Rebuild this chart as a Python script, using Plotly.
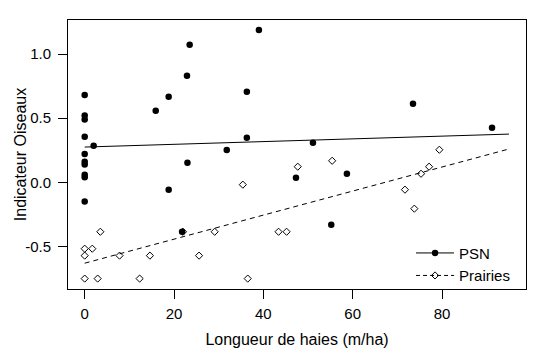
import plotly.graph_objects as go

# PSN data (Longueur de haies, Indicateur Oiseaux)
psn_x = [0, 0, 0, 0, 0, 0, 0, 0, 0, 0,
         2.0, 15.9, 18.8, 22.9, 23.5, 39.0, 36.3, 36.3, 31.8, 18.8,
         23.0, 21.8, 47.3, 73.5, 91.2, 51.1, 58.7, 55.2]
psn_y = [0.68, 0.52, 0.49, 0.355, 0.22, 0.16, 0.14, 0.06, 0.04, -0.15,
         0.285, 0.558, 0.667, 0.83, 1.072, 1.188, 0.706, 0.347, 0.252, -0.057,
         0.153, -0.385, 0.036, 0.612, 0.425, 0.309, 0.067, -0.33]

# Prairies data
pr_x = [3.5, 0, 1.7, 0, 7.8, 14.6, 25.6, 22.0, 29.1, 43.4, 45.2,
        0, 2.9, 12.3, 36.5, 35.4, 47.7, 55.4, 71.7, 73.8, 75.3, 77.1, 79.4]
pr_y = [-0.385, -0.517, -0.517, -0.571, -0.571, -0.571, -0.571, -0.385, -0.385, -0.385, -0.385,
        -0.75, -0.75, -0.75, -0.75, -0.018, 0.122, 0.168, -0.057, -0.205, 0.067, 0.122, 0.254]

# Regression lines (endpoints)
fit_x = [0, 95]
psn_fit = [0.275, 0.376]
pr_fit = [-0.63, 0.26]

x_ticks = [0, 20, 40, 60, 80]
y_ticks = [-0.5, 0.0, 0.5, 1.0]
y_tick_labels = ["-0.5", "0.0", "0.5", "1.0"]

FONT = "Liberation Sans, Arial, sans-serif"

fig = go.Figure()
fig.add_trace(go.Scatter(x=fit_x, y=psn_fit, mode="lines",
                         line=dict(color="black", width=1), showlegend=False, hoverinfo="skip"))
fig.add_trace(go.Scatter(x=fit_x, y=pr_fit, mode="lines",
                         line=dict(color="black", width=1, dash="5px,4px"), showlegend=False, hoverinfo="skip"))
fig.add_trace(go.Scatter(x=psn_x, y=psn_y, mode="markers",
                         marker=dict(symbol="circle", size=6.5, color="black"), showlegend=False))
fig.add_trace(go.Scatter(x=pr_x, y=pr_y, mode="markers",
                         marker=dict(symbol="diamond-open", size=5.5, color="black", line=dict(width=1)),
                         showlegend=False))
# legend entries
fig.add_trace(go.Scatter(x=[None], y=[None], mode="lines+markers", name="PSN",
                         line=dict(color="black", width=1),
                         marker=dict(symbol="circle", size=6.5, color="black")))
fig.add_trace(go.Scatter(x=[None], y=[None], mode="lines+markers", name="Prairies",
                         line=dict(color="black", width=1, dash="4px,3px"),
                         marker=dict(symbol="diamond-open", size=5.5, color="black", line=dict(width=1))))

fig.update_layout(
    width=538, height=350,
    margin=dict(l=60, r=20, t=12, b=69),
    plot_bgcolor="white", paper_bgcolor="white",
    font=dict(family=FONT, size=15, color="black"),
    showlegend=True,
    legend=dict(x=0.749, y=-0.01, xanchor="left", yanchor="bottom", itemwidth=38,
                bgcolor="rgba(0,0,0,0)", font=dict(size=15), tracegroupgap=0),
    xaxis=dict(range=[-3.74, 98.8], tickvals=x_ticks, ticks="outside", ticklen=9,
               tickcolor="black", showline=True, linecolor="black", linewidth=1, mirror=True,
               showgrid=False, zeroline=False, automargin=False, ticklabelstandoff=2,
               title=dict(text="Longueur de haies (m/ha)", font=dict(size=16), standoff=12)),
    yaxis=dict(range=[-0.831, 1.265], tickvals=y_ticks, ticktext=y_tick_labels, ticks="outside", ticklen=9,
               tickcolor="black", showline=True, linecolor="black", linewidth=1, mirror=True,
               showgrid=False, zeroline=False, automargin=False, ticklabelstandoff=4),
    annotations=[dict(text="Indicateur Oiseaux", textangle=-90, xref="paper", yref="paper",
                      x=-0.1033, y=0.5, xanchor="center", yanchor="middle", showarrow=False,
                      font=dict(size=16))],
)

fig.write_html("out.html")
